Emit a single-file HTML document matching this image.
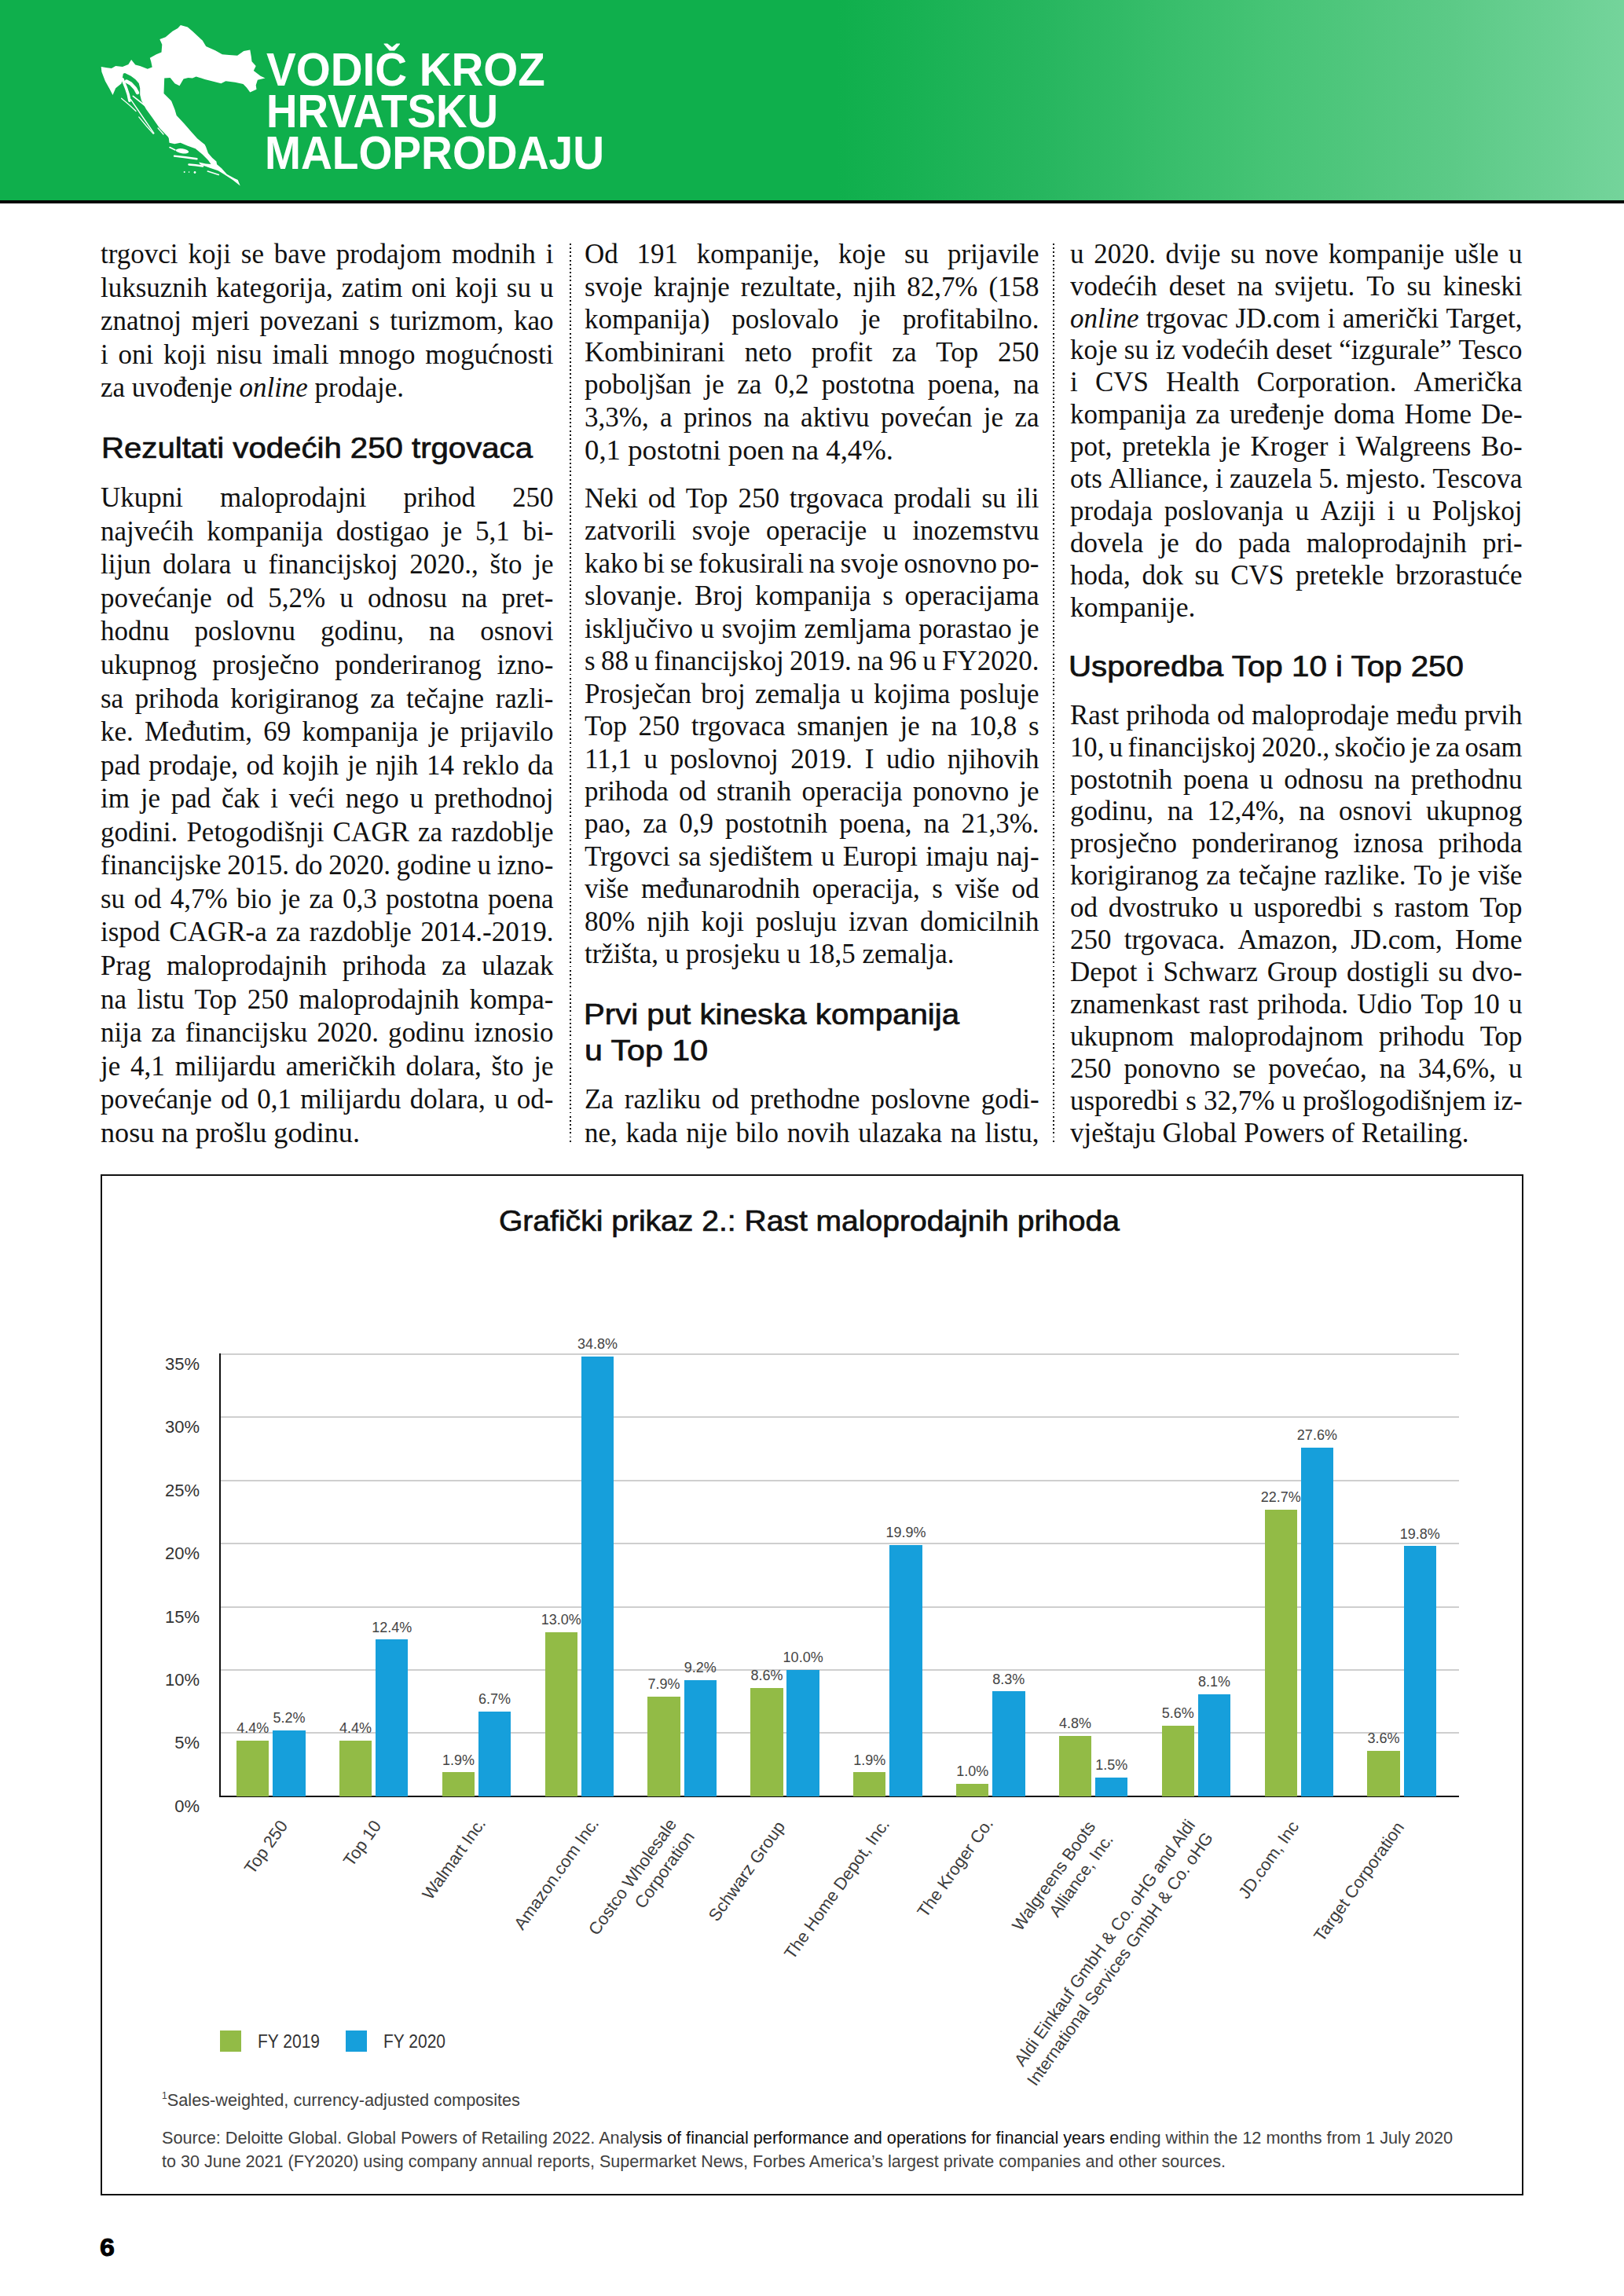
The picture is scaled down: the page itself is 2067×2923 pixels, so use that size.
<!DOCTYPE html>
<html><head><meta charset="utf-8"><title>Vodič kroz hrvatsku maloprodaju</title>
<style>
*{margin:0;padding:0}
html,body{width:2067px;height:2923px;background:#fff;overflow:hidden}
body{position:relative}
.ln{position:absolute;transform-origin:0 0;font-family:"Liberation Serif",serif;font-size:36px;line-height:40px;white-space:nowrap;color:#111}
.ln.j{display:flex;justify-content:space-between}
.hd{position:absolute;transform-origin:0 0;-webkit-text-stroke:0.7px #111;font-family:"Liberation Sans",sans-serif;line-height:40px;white-space:nowrap;color:#111}
.yl{position:absolute;left:154px;width:100px;text-align:right;font-family:"Liberation Sans",sans-serif;font-size:22px;line-height:30px;color:#333}
.vl{position:absolute;width:100px;text-align:center;font-family:"Liberation Sans",sans-serif;font-size:18px;line-height:24px;color:#444}
.xl{position:absolute;white-space:nowrap;text-align:right;font-family:"Liberation Sans",sans-serif;font-size:21.8px;line-height:27.5px;color:#3c3c3c}
.lg{position:absolute;transform-origin:0 0;font-family:"Liberation Sans",sans-serif;font-size:23px;line-height:30px;color:#333;white-space:nowrap}
.fn{position:absolute;transform-origin:0 0;font-family:"Liberation Sans",sans-serif;font-size:21.5px;line-height:30px;color:#3f3f3f;white-space:nowrap}
.fn sup{font-size:12px;line-height:0;vertical-align:baseline;position:relative;top:-9px}
.ct{position:absolute;transform-origin:0 0;-webkit-text-stroke:0.7px #111;font-family:"Liberation Sans",sans-serif;font-size:37px;line-height:40px;color:#111;white-space:nowrap}
.ht{position:absolute;left:339px;font-family:"Liberation Sans",sans-serif;font-weight:bold;font-size:60px;line-height:60px;color:#fff;transform-origin:0 0;white-space:nowrap}
</style></head><body>
<div style="position:absolute;left:0;top:0;width:2067px;height:255.5px;background:linear-gradient(to right,#0faf4c 0px,#0faf4c 1065px,#27b65f 1330px,#44c374 1600px,#5cca87 1850px,#74d49b 2067px)"></div>
<div style="position:absolute;left:0;top:255.2px;width:2067px;height:3.6px;background:#050505"></div>
<div class="ht" id="T1" style="left:338.8px;top:59.41px;transform:scaleX(0.9419)">VODIČ KROZ</div>
<div class="ht" id="T2" style="left:338.7px;top:112.21px;transform:scaleX(0.9123)">HRVATSKU</div>
<div class="ht" id="T3" style="left:337.3px;top:165.21px;transform:scaleX(0.9191)">MALOPRODAJU</div>
<svg style="position:absolute;left:0;top:0" width="400" height="260" viewBox="0 0 400 260"><g fill="#fff"><polygon points="128.7,84.9 136.1,86.3 142.0,87.1 147.2,84.1 156.0,84.9 163.4,81.9 167.1,76.0 172.3,82.6 178.2,84.1 187.8,87.8 193.7,85.6 192.2,78.2 190.8,73.8 198.9,69.3 205.5,66.4 206.3,56.8 203.3,50.1 210.7,47.2 219.6,39.8 226.2,36.1 229.9,32.0 238.8,34.6 245.0,39.8 247.4,42.0 257.7,51.6 262.2,59.0 274.0,64.2 282.9,69.3 291.7,70.1 302.1,70.8 310.2,64.9 318.3,63.4 319.8,72.3 320.5,78.2 325.7,84.1 322.8,90.0 331.6,96.7 337.5,99.6 327.9,101.8 325.7,108.5 326.5,113.7 318.3,117.4 313.9,111.5 309.5,107.0 299.1,104.8 287.3,103.3 281.4,106.3 269.6,103.3 260.7,101.1 249.6,97.4 245.0,99.6 239.5,98.9 233.6,100.4 228.5,109.2 222.5,106.3 216.6,98.9 209.2,99.6 208.5,118.9 218.1,128.5 222.5,139.6 224.7,146.9 234.3,157.3 243.2,167.6 251.3,176.5 260.6,184.0 262.1,187.0 265.0,195.1 270.2,201.0 275.4,205.5 276.1,209.2 282.0,214.3 288.7,221.7 298.3,226.9 302.7,229.1 305.7,236.5 296.1,229.1 285.0,221.7 277.6,217.3 266.5,213.6 254.7,209.2 253.2,206.5 262.0,208.5 268.5,209.0 265.0,204.0 257.6,196.6 248.8,189.2 238.4,185.5 229.6,181.8 222.2,183.3 215.5,181.8 214.8,175.9 213.7,174.0 203.0,163.0 194.0,150.0 186.0,139.0 180.0,128.0 178.2,120.8 178.2,112.2 176.7,106.0 172.3,101.1 166.6,96.7 159.0,93.0 156.8,93.7 154.6,106.3 147.2,112.2 143.5,121.1 139.8,113.7 133.9,103.3 129.4,91.5"/><polyline points="156,100.9 160.5,112 163.4,120.8 164.9,128.2" fill="none" stroke="#fff" stroke-width="3.6" stroke-linecap="round" stroke-linejoin="round"/><polyline points="161,103.5 166.4,106.5 172,112.5 175,118" fill="none" stroke="#fff" stroke-width="4.5" stroke-linecap="round" stroke-linejoin="round"/><polyline points="169.3,122.3 184,134 198.9,146" fill="none" stroke="#fff" stroke-width="1.6" stroke-linecap="round" stroke-linejoin="round"/><polyline points="166.4,126.7 181,148 195.9,169.6" fill="none" stroke="#fff" stroke-width="1.4" stroke-linecap="round" stroke-linejoin="round"/><polyline points="154.6,125.2 165,134 173,141.5" fill="none" stroke="#fff" stroke-width="1.2" stroke-linecap="round" stroke-linejoin="round"/><polyline points="176.7,148.9 186,160 195.2,170.3" fill="none" stroke="#fff" stroke-width="1.2" stroke-linecap="round" stroke-linejoin="round"/><polyline points="201,163 208,171" fill="none" stroke="#fff" stroke-width="1.2" stroke-linecap="round" stroke-linejoin="round"/><polyline points="222,198.6 236,200.2 250.5,202.3" fill="none" stroke="#fff" stroke-width="2.4" stroke-linecap="round" stroke-linejoin="round"/><polyline points="240.5,209.5 249,210.3 258,211.5" fill="none" stroke="#fff" stroke-width="2.6" stroke-linecap="round" stroke-linejoin="round"/><polyline points="264.3,218 278.3,222.5" fill="none" stroke="#fff" stroke-width="1.6" stroke-linecap="round" stroke-linejoin="round"/><polyline points="216,187.5 223,191" fill="none" stroke="#fff" stroke-width="1.6" stroke-linecap="round" stroke-linejoin="round"/><ellipse cx="232" cy="192.3" rx="8.3" ry="3" transform="rotate(8 232 192.3)"/><circle cx="234.7" cy="219.1" r="1"/><circle cx="240.6" cy="219.1" r="0.8"/><circle cx="248" cy="219.5" r="1.4"/></g></svg>
<div style="position:absolute;left:725.0px;top:310.0px;width:1.9px;height:1144px;background:repeating-linear-gradient(to bottom,#111 0,#111 1.9px,transparent 1.9px,transparent 5.166px)"></div>
<div style="position:absolute;left:1340.1px;top:310.0px;width:1.9px;height:1144px;background:repeating-linear-gradient(to bottom,#111 0,#111 1.9px,transparent 1.9px,transparent 5.166px)"></div>
<div class="ln j" id="L1" style="left:127.9px;top:303.05px;width:593.11px;transform:scaleX(0.9720);"><span>trgovci</span><span>koji</span><span>se</span><span>bave</span><span>prodajom</span><span>modnih</span><span>i</span></div>
<div class="ln j" id="L2" style="left:127.9px;top:345.55px;width:593.11px;transform:scaleX(0.9720);"><span>luksuznih</span><span>kategorija,</span><span>zatim</span><span>oni</span><span>koji</span><span>su</span><span>u</span></div>
<div class="ln j" id="L3" style="left:127.9px;top:388.05px;width:593.11px;transform:scaleX(0.9720);"><span>znatnoj</span><span>mjeri</span><span>povezani</span><span>s</span><span>turizmom,</span><span>kao</span></div>
<div class="ln j" id="L4" style="left:127.9px;top:430.55px;width:593.11px;transform:scaleX(0.9720);"><span>i</span><span>oni</span><span>koji</span><span>nisu</span><span>imali</span><span>mnogo</span><span>mogućnosti</span></div>
<div class="ln" id="L5" style="left:127.9px;top:473.05px;transform:scaleX(0.9702);">za uvođenje <i>online</i> prodaje.</div>
<div class="hd" id="H1" style="left:128.8px;top:550.98px;font-size:37px;transform:scaleX(1.0850)">Rezultati vodećih 250 trgovaca</div>
<div class="ln j" id="L6" style="left:127.9px;top:613.15px;width:593.11px;transform:scaleX(0.9720);"><span>Ukupni</span><span>maloprodajni</span><span>prihod</span><span>250</span></div>
<div class="ln j" id="L7" style="left:127.9px;top:655.71px;width:593.11px;transform:scaleX(0.9720);"><span>najvećih</span><span>kompanija</span><span>dostigao</span><span>je</span><span>5,1</span><span>bi-</span></div>
<div class="ln j" id="L8" style="left:127.9px;top:698.27px;width:593.11px;transform:scaleX(0.9720);"><span>lijun</span><span>dolara</span><span>u</span><span>financijskoj</span><span>2020.,</span><span>što</span><span>je</span></div>
<div class="ln j" id="L9" style="left:127.9px;top:740.83px;width:593.11px;transform:scaleX(0.9720);"><span>povećanje</span><span>od</span><span>5,2%</span><span>u</span><span>odnosu</span><span>na</span><span>pret-</span></div>
<div class="ln j" id="L10" style="left:127.9px;top:783.39px;width:593.11px;transform:scaleX(0.9720);"><span>hodnu</span><span>poslovnu</span><span>godinu,</span><span>na</span><span>osnovi</span></div>
<div class="ln j" id="L11" style="left:127.9px;top:825.95px;width:593.11px;transform:scaleX(0.9720);"><span>ukupnog</span><span>prosječno</span><span>ponderiranog</span><span>izno-</span></div>
<div class="ln j" id="L12" style="left:127.9px;top:868.51px;width:593.11px;transform:scaleX(0.9720);"><span>sa</span><span>prihoda</span><span>korigiranog</span><span>za</span><span>tečajne</span><span>razli-</span></div>
<div class="ln j" id="L13" style="left:127.9px;top:911.07px;width:593.11px;transform:scaleX(0.9720);"><span>ke.</span><span>Međutim,</span><span>69</span><span>kompanija</span><span>je</span><span>prijavilo</span></div>
<div class="ln j" id="L14" style="left:127.9px;top:953.63px;width:593.11px;transform:scaleX(0.9720);"><span>pad</span><span>prodaje,</span><span>od</span><span>kojih</span><span>je</span><span>njih</span><span>14</span><span>reklo</span><span>da</span></div>
<div class="ln j" id="L15" style="left:127.9px;top:996.19px;width:593.11px;transform:scaleX(0.9720);"><span>im</span><span>je</span><span>pad</span><span>čak</span><span>i</span><span>veći</span><span>nego</span><span>u</span><span>prethodnoj</span></div>
<div class="ln j" id="L16" style="left:127.9px;top:1038.75px;width:593.11px;transform:scaleX(0.9720);"><span>godini.</span><span>Petogodišnji</span><span>CAGR</span><span>za</span><span>razdoblje</span></div>
<div class="ln j" id="L17" style="left:127.9px;top:1081.31px;width:593.11px;transform:scaleX(0.9720);"><span>financijske</span><span>2015.</span><span>do</span><span>2020.</span><span>godine</span><span>u</span><span>izno-</span></div>
<div class="ln j" id="L18" style="left:127.9px;top:1123.87px;width:593.11px;transform:scaleX(0.9720);"><span>su</span><span>od</span><span>4,7%</span><span>bio</span><span>je</span><span>za</span><span>0,3</span><span>postotna</span><span>poena</span></div>
<div class="ln j" id="L19" style="left:127.9px;top:1166.43px;width:593.11px;transform:scaleX(0.9720);"><span>ispod</span><span>CAGR-a</span><span>za</span><span>razdoblje</span><span>2014.-2019.</span></div>
<div class="ln j" id="L20" style="left:127.9px;top:1208.99px;width:593.11px;transform:scaleX(0.9720);"><span>Prag</span><span>maloprodajnih</span><span>prihoda</span><span>za</span><span>ulazak</span></div>
<div class="ln j" id="L21" style="left:127.9px;top:1251.55px;width:593.11px;transform:scaleX(0.9720);"><span>na</span><span>listu</span><span>Top</span><span>250</span><span>maloprodajnih</span><span>kompa-</span></div>
<div class="ln j" id="L22" style="left:127.9px;top:1294.11px;width:593.11px;transform:scaleX(0.9720);"><span>nija</span><span>za</span><span>financijsku</span><span>2020.</span><span>godinu</span><span>iznosio</span></div>
<div class="ln j" id="L23" style="left:127.9px;top:1336.67px;width:593.11px;transform:scaleX(0.9720);"><span>je</span><span>4,1</span><span>milijardu</span><span>američkih</span><span>dolara,</span><span>što</span><span>je</span></div>
<div class="ln j" id="L24" style="left:127.9px;top:1379.23px;width:593.11px;transform:scaleX(0.9720);"><span>povećanje</span><span>od</span><span>0,1</span><span>milijardu</span><span>dolara,</span><span>u</span><span>od-</span></div>
<div class="ln" id="L25" style="left:127.9px;top:1421.79px;transform:scaleX(1.0061);">nosu na prošlu godinu.</div>
<div class="ln j" id="L26" style="left:744.2px;top:303.05px;width:595.27px;transform:scaleX(0.9720);"><span>Od</span><span>191</span><span>kompanije,</span><span>koje</span><span>su</span><span>prijavile</span></div>
<div class="ln j" id="L27" style="left:744.2px;top:344.63px;width:595.27px;transform:scaleX(0.9720);"><span>svoje</span><span>krajnje</span><span>rezultate,</span><span>njih</span><span>82,7%</span><span>(158</span></div>
<div class="ln j" id="L28" style="left:744.2px;top:386.21px;width:595.27px;transform:scaleX(0.9720);"><span>kompanija)</span><span>poslovalo</span><span>je</span><span>profitabilno.</span></div>
<div class="ln j" id="L29" style="left:744.2px;top:427.79px;width:595.27px;transform:scaleX(0.9720);"><span>Kombinirani</span><span>neto</span><span>profit</span><span>za</span><span>Top</span><span>250</span></div>
<div class="ln j" id="L30" style="left:744.2px;top:469.37px;width:595.27px;transform:scaleX(0.9720);"><span>poboljšan</span><span>je</span><span>za</span><span>0,2</span><span>postotna</span><span>poena,</span><span>na</span></div>
<div class="ln j" id="L31" style="left:744.2px;top:510.95px;width:595.27px;transform:scaleX(0.9720);"><span>3,3%,</span><span>a</span><span>prinos</span><span>na</span><span>aktivu</span><span>povećan</span><span>je</span><span>za</span></div>
<div class="ln" id="L32" style="left:744.2px;top:552.53px;transform:scaleX(1.0209);">0,1 postotni poen na 4,4%.</div>
<div class="ln j" id="L33" style="left:744.2px;top:613.75px;width:595.27px;transform:scaleX(0.9720);"><span>Neki</span><span>od</span><span>Top</span><span>250</span><span>trgovaca</span><span>prodali</span><span>su</span><span>ili</span></div>
<div class="ln j" id="L34" style="left:744.2px;top:655.22px;width:595.27px;transform:scaleX(0.9720);"><span>zatvorili</span><span>svoje</span><span>operacije</span><span>u</span><span>inozemstvu</span></div>
<div class="ln j" id="L35" style="left:744.2px;top:696.69px;width:595.27px;transform:scaleX(0.9720);"><span>kako</span><span>bi</span><span>se</span><span>fokusirali</span><span>na</span><span>svoje</span><span>osnovno</span><span>po-</span></div>
<div class="ln j" id="L36" style="left:744.2px;top:738.16px;width:595.27px;transform:scaleX(0.9720);"><span>slovanje.</span><span>Broj</span><span>kompanija</span><span>s</span><span>operacijama</span></div>
<div class="ln j" id="L37" style="left:744.2px;top:779.63px;width:595.27px;transform:scaleX(0.9720);"><span>isključivo</span><span>u</span><span>svojim</span><span>zemljama</span><span>porastao</span><span>je</span></div>
<div class="ln j" id="L38" style="left:744.2px;top:821.10px;width:595.27px;transform:scaleX(0.9720);"><span>s</span><span>88</span><span>u</span><span>financijskoj</span><span>2019.</span><span>na</span><span>96</span><span>u</span><span>FY2020.</span></div>
<div class="ln j" id="L39" style="left:744.2px;top:862.57px;width:595.27px;transform:scaleX(0.9720);"><span>Prosječan</span><span>broj</span><span>zemalja</span><span>u</span><span>kojima</span><span>posluje</span></div>
<div class="ln j" id="L40" style="left:744.2px;top:904.04px;width:595.27px;transform:scaleX(0.9720);"><span>Top</span><span>250</span><span>trgovaca</span><span>smanjen</span><span>je</span><span>na</span><span>10,8</span><span>s</span></div>
<div class="ln j" id="L41" style="left:744.2px;top:945.51px;width:595.27px;transform:scaleX(0.9720);"><span>11,1</span><span>u</span><span>poslovnoj</span><span>2019.</span><span>I</span><span>udio</span><span>njihovih</span></div>
<div class="ln j" id="L42" style="left:744.2px;top:986.98px;width:595.27px;transform:scaleX(0.9720);"><span>prihoda</span><span>od</span><span>stranih</span><span>operacija</span><span>ponovno</span><span>je</span></div>
<div class="ln j" id="L43" style="left:744.2px;top:1028.45px;width:595.27px;transform:scaleX(0.9720);"><span>pao,</span><span>za</span><span>0,9</span><span>postotnih</span><span>poena,</span><span>na</span><span>21,3%.</span></div>
<div class="ln j" id="L44" style="left:744.2px;top:1069.92px;width:595.27px;transform:scaleX(0.9720);"><span>Trgovci</span><span>sa</span><span>sjedištem</span><span>u</span><span>Europi</span><span>imaju</span><span>naj-</span></div>
<div class="ln j" id="L45" style="left:744.2px;top:1111.39px;width:595.27px;transform:scaleX(0.9720);"><span>više</span><span>međunarodnih</span><span>operacija,</span><span>s</span><span>više</span><span>od</span></div>
<div class="ln j" id="L46" style="left:744.2px;top:1152.86px;width:595.27px;transform:scaleX(0.9720);"><span>80%</span><span>njih</span><span>koji</span><span>posluju</span><span>izvan</span><span>domicilnih</span></div>
<div class="ln" id="L47" style="left:744.2px;top:1194.33px;transform:scaleX(0.9684);">tržišta, u prosjeku u 18,5 zemalja.</div>
<div class="hd" id="H2" style="left:743.2px;top:1271.68px;font-size:37px;transform:scaleX(1.0861)">Prvi put kineska kompanija</div>
<div class="hd" id="H3" style="left:743.5px;top:1318.18px;font-size:37px;transform:scaleX(1.1113)">u Top 10</div>
<div class="ln j" id="L48" style="left:744.2px;top:1379.05px;width:595.27px;transform:scaleX(0.9720);"><span>Za</span><span>razliku</span><span>od</span><span>prethodne</span><span>poslovne</span><span>godi-</span></div>
<div class="ln j" id="L49" style="left:744.2px;top:1421.55px;width:595.27px;transform:scaleX(0.9720);"><span>ne,</span><span>kada</span><span>nije</span><span>bilo</span><span>novih</span><span>ulazaka</span><span>na</span><span>listu,</span></div>
<div class="ln j" id="L50" style="left:1362.0px;top:302.75px;width:592.18px;transform:scaleX(0.9720);"><span>u</span><span>2020.</span><span>dvije</span><span>su</span><span>nove</span><span>kompanije</span><span>ušle</span><span>u</span></div>
<div class="ln j" id="L51" style="left:1362.0px;top:343.64px;width:592.18px;transform:scaleX(0.9720);"><span>vodećih</span><span>deset</span><span>na</span><span>svijetu.</span><span>To</span><span>su</span><span>kineski</span></div>
<div class="ln j" id="L52" style="left:1362.0px;top:384.53px;width:592.18px;transform:scaleX(0.9720);"><span><i>online</i></span><span>trgovac</span><span>JD.com</span><span>i</span><span>američki</span><span>Target,</span></div>
<div class="ln j" id="L53" style="left:1362.0px;top:425.42px;width:592.18px;transform:scaleX(0.9720);"><span>koje</span><span>su</span><span>iz</span><span>vodećih</span><span>deset</span><span>“izgurale”</span><span>Tesco</span></div>
<div class="ln j" id="L54" style="left:1362.0px;top:466.31px;width:592.18px;transform:scaleX(0.9720);"><span>i</span><span>CVS</span><span>Health</span><span>Corporation.</span><span>Američka</span></div>
<div class="ln j" id="L55" style="left:1362.0px;top:507.20px;width:592.18px;transform:scaleX(0.9720);"><span>kompanija</span><span>za</span><span>uređenje</span><span>doma</span><span>Home</span><span>De-</span></div>
<div class="ln j" id="L56" style="left:1362.0px;top:548.09px;width:592.18px;transform:scaleX(0.9720);"><span>pot,</span><span>pretekla</span><span>je</span><span>Kroger</span><span>i</span><span>Walgreens</span><span>Bo-</span></div>
<div class="ln j" id="L57" style="left:1362.0px;top:588.98px;width:592.18px;transform:scaleX(0.9720);"><span>ots</span><span>Alliance,</span><span>i</span><span>zauzela</span><span>5.</span><span>mjesto.</span><span>Tescova</span></div>
<div class="ln j" id="L58" style="left:1362.0px;top:629.87px;width:592.18px;transform:scaleX(0.9720);"><span>prodaja</span><span>poslovanja</span><span>u</span><span>Aziji</span><span>i</span><span>u</span><span>Poljskoj</span></div>
<div class="ln j" id="L59" style="left:1362.0px;top:670.76px;width:592.18px;transform:scaleX(0.9720);"><span>dovela</span><span>je</span><span>do</span><span>pada</span><span>maloprodajnih</span><span>pri-</span></div>
<div class="ln j" id="L60" style="left:1362.0px;top:711.65px;width:592.18px;transform:scaleX(0.9720);"><span>hoda,</span><span>dok</span><span>su</span><span>CVS</span><span>pretekle</span><span>brzorastuće</span></div>
<div class="ln" id="L61" style="left:1362.0px;top:752.54px;transform:scaleX(0.9909);">kompanije.</div>
<div class="hd" id="H4" style="left:1360.2px;top:828.78px;font-size:37px;transform:scaleX(1.0899)">Usporedba Top 10 i Top 250</div>
<div class="ln j" id="L62" style="left:1362.0px;top:889.75px;width:592.18px;transform:scaleX(0.9720);"><span>Rast</span><span>prihoda</span><span>od</span><span>maloprodaje</span><span>među</span><span>prvih</span></div>
<div class="ln j" id="L63" style="left:1362.0px;top:930.66px;width:598.21px;transform:scaleX(0.9622);"><span>10,</span><span>u</span><span>financijskoj</span><span>2020.,</span><span>skočio</span><span>je</span><span>za</span><span>osam</span></div>
<div class="ln j" id="L64" style="left:1362.0px;top:971.57px;width:592.18px;transform:scaleX(0.9720);"><span>postotnih</span><span>poena</span><span>u</span><span>odnosu</span><span>na</span><span>prethodnu</span></div>
<div class="ln j" id="L65" style="left:1362.0px;top:1012.48px;width:592.18px;transform:scaleX(0.9720);"><span>godinu,</span><span>na</span><span>12,4%,</span><span>na</span><span>osnovi</span><span>ukupnog</span></div>
<div class="ln j" id="L66" style="left:1362.0px;top:1053.39px;width:592.18px;transform:scaleX(0.9720);"><span>prosječno</span><span>ponderiranog</span><span>iznosa</span><span>prihoda</span></div>
<div class="ln j" id="L67" style="left:1362.0px;top:1094.30px;width:592.18px;transform:scaleX(0.9720);"><span>korigiranog</span><span>za</span><span>tečajne</span><span>razlike.</span><span>To</span><span>je</span><span>više</span></div>
<div class="ln j" id="L68" style="left:1362.0px;top:1135.21px;width:592.18px;transform:scaleX(0.9720);"><span>od</span><span>dvostruko</span><span>u</span><span>usporedbi</span><span>s</span><span>rastom</span><span>Top</span></div>
<div class="ln j" id="L69" style="left:1362.0px;top:1176.12px;width:592.18px;transform:scaleX(0.9720);"><span>250</span><span>trgovaca.</span><span>Amazon,</span><span>JD.com,</span><span>Home</span></div>
<div class="ln j" id="L70" style="left:1362.0px;top:1217.03px;width:592.18px;transform:scaleX(0.9720);"><span>Depot</span><span>i</span><span>Schwarz</span><span>Group</span><span>dostigli</span><span>su</span><span>dvo-</span></div>
<div class="ln j" id="L71" style="left:1362.0px;top:1257.94px;width:592.18px;transform:scaleX(0.9720);"><span>znamenkast</span><span>rast</span><span>prihoda.</span><span>Udio</span><span>Top</span><span>10</span><span>u</span></div>
<div class="ln j" id="L72" style="left:1362.0px;top:1298.85px;width:592.18px;transform:scaleX(0.9720);"><span>ukupnom</span><span>maloprodajnom</span><span>prihodu</span><span>Top</span></div>
<div class="ln j" id="L73" style="left:1362.0px;top:1339.76px;width:592.18px;transform:scaleX(0.9720);"><span>250</span><span>ponovno</span><span>se</span><span>povećao,</span><span>na</span><span>34,6%,</span><span>u</span></div>
<div class="ln j" id="L74" style="left:1362.0px;top:1380.67px;width:592.18px;transform:scaleX(0.9720);"><span>usporedbi</span><span>s</span><span>32,7%</span><span>u</span><span>prošlogodišnjem</span><span>iz-</span></div>
<div class="ln" id="L75" style="left:1362.0px;top:1421.58px;transform:scaleX(0.9705);">vještaju Global Powers of Retailing.</div>
<div style="position:absolute;left:127.5px;top:1495.4px;width:1811px;height:1299.4px;box-sizing:border-box;border:2.4px solid #111"></div>
<div style="position:absolute;left:279.8px;top:2205px;width:1577.2px;height:2px;background:#cfcfcf"></div>
<div style="position:absolute;left:279.8px;top:2125px;width:1577.2px;height:2px;background:#cfcfcf"></div>
<div style="position:absolute;left:279.8px;top:2045px;width:1577.2px;height:2px;background:#cfcfcf"></div>
<div style="position:absolute;left:279.8px;top:1964px;width:1577.2px;height:2px;background:#cfcfcf"></div>
<div style="position:absolute;left:279.8px;top:1884px;width:1577.2px;height:2px;background:#cfcfcf"></div>
<div style="position:absolute;left:279.8px;top:1803px;width:1577.2px;height:2px;background:#cfcfcf"></div>
<div style="position:absolute;left:279.8px;top:1723px;width:1577.2px;height:2px;background:#cfcfcf"></div>
<div class="yl" style="top:2284.78px">0%</div>
<div class="yl" style="top:2204.38px">5%</div>
<div class="yl" style="top:2123.98px">10%</div>
<div class="yl" style="top:2043.58px">15%</div>
<div class="yl" style="top:1963.18px">20%</div>
<div class="yl" style="top:1882.78px">25%</div>
<div class="yl" style="top:1802.38px">30%</div>
<div class="yl" style="top:1721.98px">35%</div>
<div style="position:absolute;left:278.7px;top:1723.0px;width:2.2px;height:565.0px;background:#111"></div>
<div style="position:absolute;left:278.7px;top:2285.60px;width:1578.2px;height:2.4px;background:#111"></div>
<div style="position:absolute;left:301.00px;top:2216.05px;width:41.4px;height:70.75px;background:#92bb46"></div>
<div class="vl" style="left:271.70px;top:2188.31px">4.4%</div>
<div style="position:absolute;left:347.20px;top:2203.18px;width:41.4px;height:83.62px;background:#169fdb"></div>
<div class="vl" style="left:317.90px;top:2175.45px">5.2%</div>
<div style="position:absolute;left:431.85px;top:2216.05px;width:41.4px;height:70.75px;background:#92bb46"></div>
<div class="vl" style="left:402.55px;top:2188.31px">4.4%</div>
<div style="position:absolute;left:478.05px;top:2087.41px;width:41.4px;height:199.39px;background:#169fdb"></div>
<div class="vl" style="left:448.75px;top:2059.67px">12.4%</div>
<div style="position:absolute;left:562.70px;top:2256.25px;width:41.4px;height:30.55px;background:#92bb46"></div>
<div class="vl" style="left:533.40px;top:2228.51px">1.9%</div>
<div style="position:absolute;left:608.90px;top:2179.06px;width:41.4px;height:107.74px;background:#169fdb"></div>
<div class="vl" style="left:579.60px;top:2151.33px">6.7%</div>
<div style="position:absolute;left:693.55px;top:2077.76px;width:41.4px;height:209.04px;background:#92bb46"></div>
<div class="vl" style="left:664.25px;top:2050.02px">13.0%</div>
<div style="position:absolute;left:739.75px;top:1727.22px;width:41.4px;height:559.58px;background:#169fdb"></div>
<div class="vl" style="left:710.45px;top:1699.48px">34.8%</div>
<div style="position:absolute;left:824.40px;top:2159.77px;width:41.4px;height:127.03px;background:#92bb46"></div>
<div class="vl" style="left:795.10px;top:2132.03px">7.9%</div>
<div style="position:absolute;left:870.60px;top:2138.86px;width:41.4px;height:147.94px;background:#169fdb"></div>
<div class="vl" style="left:841.30px;top:2111.13px">9.2%</div>
<div style="position:absolute;left:955.25px;top:2148.51px;width:41.4px;height:138.29px;background:#92bb46"></div>
<div class="vl" style="left:925.95px;top:2120.78px">8.6%</div>
<div style="position:absolute;left:1001.45px;top:2126.00px;width:41.4px;height:160.80px;background:#169fdb"></div>
<div class="vl" style="left:972.15px;top:2098.26px">10.0%</div>
<div style="position:absolute;left:1086.10px;top:2256.25px;width:41.4px;height:30.55px;background:#92bb46"></div>
<div class="vl" style="left:1056.80px;top:2228.51px">1.9%</div>
<div style="position:absolute;left:1132.30px;top:1966.81px;width:41.4px;height:319.99px;background:#169fdb"></div>
<div class="vl" style="left:1103.00px;top:1939.07px">19.9%</div>
<div style="position:absolute;left:1216.95px;top:2270.72px;width:41.4px;height:16.08px;background:#92bb46"></div>
<div class="vl" style="left:1187.65px;top:2242.98px">1.0%</div>
<div style="position:absolute;left:1263.15px;top:2153.34px;width:41.4px;height:133.46px;background:#169fdb"></div>
<div class="vl" style="left:1233.85px;top:2125.60px">8.3%</div>
<div style="position:absolute;left:1347.80px;top:2209.62px;width:41.4px;height:77.18px;background:#92bb46"></div>
<div class="vl" style="left:1318.50px;top:2181.88px">4.8%</div>
<div style="position:absolute;left:1394.00px;top:2262.68px;width:41.4px;height:24.12px;background:#169fdb"></div>
<div class="vl" style="left:1364.70px;top:2234.94px">1.5%</div>
<div style="position:absolute;left:1478.65px;top:2196.75px;width:41.4px;height:90.05px;background:#92bb46"></div>
<div class="vl" style="left:1449.35px;top:2169.02px">5.6%</div>
<div style="position:absolute;left:1524.85px;top:2156.55px;width:41.4px;height:130.25px;background:#169fdb"></div>
<div class="vl" style="left:1495.55px;top:2128.82px">8.1%</div>
<div style="position:absolute;left:1609.50px;top:1921.78px;width:41.4px;height:365.02px;background:#92bb46"></div>
<div class="vl" style="left:1580.20px;top:1894.05px">22.7%</div>
<div style="position:absolute;left:1655.70px;top:1842.99px;width:41.4px;height:443.81px;background:#169fdb"></div>
<div class="vl" style="left:1626.40px;top:1815.26px">27.6%</div>
<div style="position:absolute;left:1740.35px;top:2228.91px;width:41.4px;height:57.89px;background:#92bb46"></div>
<div class="vl" style="left:1711.05px;top:2201.18px">3.6%</div>
<div style="position:absolute;left:1786.55px;top:1968.42px;width:41.4px;height:318.38px;background:#169fdb"></div>
<div class="vl" style="left:1757.25px;top:1940.68px">19.8%</div>
<div class="xl" id="XL0" style="left:350.0px;top:2312.0px;transform-origin:100% 0;transform:translate(-100%,0) rotate(-54.5deg)">Top 250</div>
<div class="xl" id="XL1" style="left:469.0px;top:2312.0px;transform-origin:100% 0;transform:translate(-100%,0) rotate(-54.5deg)">Top 10</div>
<div class="xl" id="XL2" style="left:602.0px;top:2309.0px;transform-origin:100% 0;transform:translate(-100%,0) rotate(-54.5deg)">Walmart Inc.</div>
<div class="xl" id="XL3" style="left:746.0px;top:2309.0px;transform-origin:100% 0;transform:translate(-100%,0) rotate(-54.5deg)">Amazon.com Inc.</div>
<div class="xl" id="XL4" style="left:845.0px;top:2310.0px;transform-origin:100% 0;transform:translate(-100%,0) rotate(-54.5deg)">Costco Wholesale<br>Corporation</div>
<div class="xl" id="XL5" style="left:983.0px;top:2313.0px;transform-origin:100% 0;transform:translate(-100%,0) rotate(-54.5deg)">Schwarz Group</div>
<div class="xl" id="XL6" style="left:1116.0px;top:2310.0px;transform-origin:100% 0;transform:translate(-100%,0) rotate(-54.5deg)">The Home Depot, Inc.</div>
<div class="xl" id="XL7" style="left:1248.0px;top:2309.0px;transform-origin:100% 0;transform:translate(-100%,0) rotate(-54.5deg)">The Kroger Co.</div>
<div class="xl" id="XL8" style="left:1378.0px;top:2313.0px;transform-origin:100% 0;transform:translate(-100%,0) rotate(-54.5deg)">Walgreens Boots<br>Alliance, Inc.</div>
<div class="xl" id="XL9" style="left:1505.0px;top:2311.0px;transform-origin:100% 0;transform:translate(-100%,0) rotate(-54.5deg)">Aldi Einkauf GmbH &amp; Co. oHG and Aldi<br>International Services GmbH &amp; Co. oHG</div>
<div class="xl" id="XL10" style="left:1637.0px;top:2313.0px;transform-origin:100% 0;transform:translate(-100%,0) rotate(-54.5deg)">JD.com, Inc</div>
<div class="xl" id="XL11" style="left:1771.0px;top:2314.0px;transform-origin:100% 0;transform:translate(-100%,0) rotate(-54.5deg)">Target Corporation</div>
<div style="position:absolute;left:279.6px;top:2585.1px;width:27px;height:26.6px;background:#92bb46"></div>
<div style="position:absolute;left:440.3px;top:2585.1px;width:26.6px;height:26.6px;background:#169fdb"></div>
<div class="lg" id="LG1" style="left:327.5px;top:2584.23px;transform:scaleX(0.9130)">FY 2019</div>
<div class="lg" id="LG2" style="left:488px;top:2584.23px;transform:scaleX(0.9130)">FY 2020</div>
<div class="fn" id="FN1" style="left:205.5px;top:2658.95px;transform:scaleX(1.0105)"><sup>1</sup>Sales-weighted, currency-adjusted composites</div>
<div class="fn" id="FN2" style="left:205.5px;top:2706.55px;transform:scaleX(1.0094)">Source: Deloitte Global. Global Powers of Retailing 2022. Analy<span style="color:#111">sis of financial performance and operations for financial years e</span>nding within the 12 months from 1 July 2020</div>
<div class="fn" id="FN3" style="left:205.5px;top:2737.05px;transform:scaleX(1.0020)">to 30 June 2021 (FY2020) using company annual reports, Supermarket News, Forbes America’s largest private companies and other sources.</div>
<div class="ct" id="CT" style="left:635.2px;top:1535.18px;transform:scaleX(1.0553)">Grafički prikaz 2.: Rast maloprodajnih prihoda</div>
<div style="position:absolute;left:126.5px;top:2841.29px;font-family:'Liberation Sans';font-weight:bold;font-size:31.5px;line-height:40px;-webkit-text-stroke:0.9px #000;transform:scaleX(1.08);transform-origin:0 0">6</div>

</body></html>
